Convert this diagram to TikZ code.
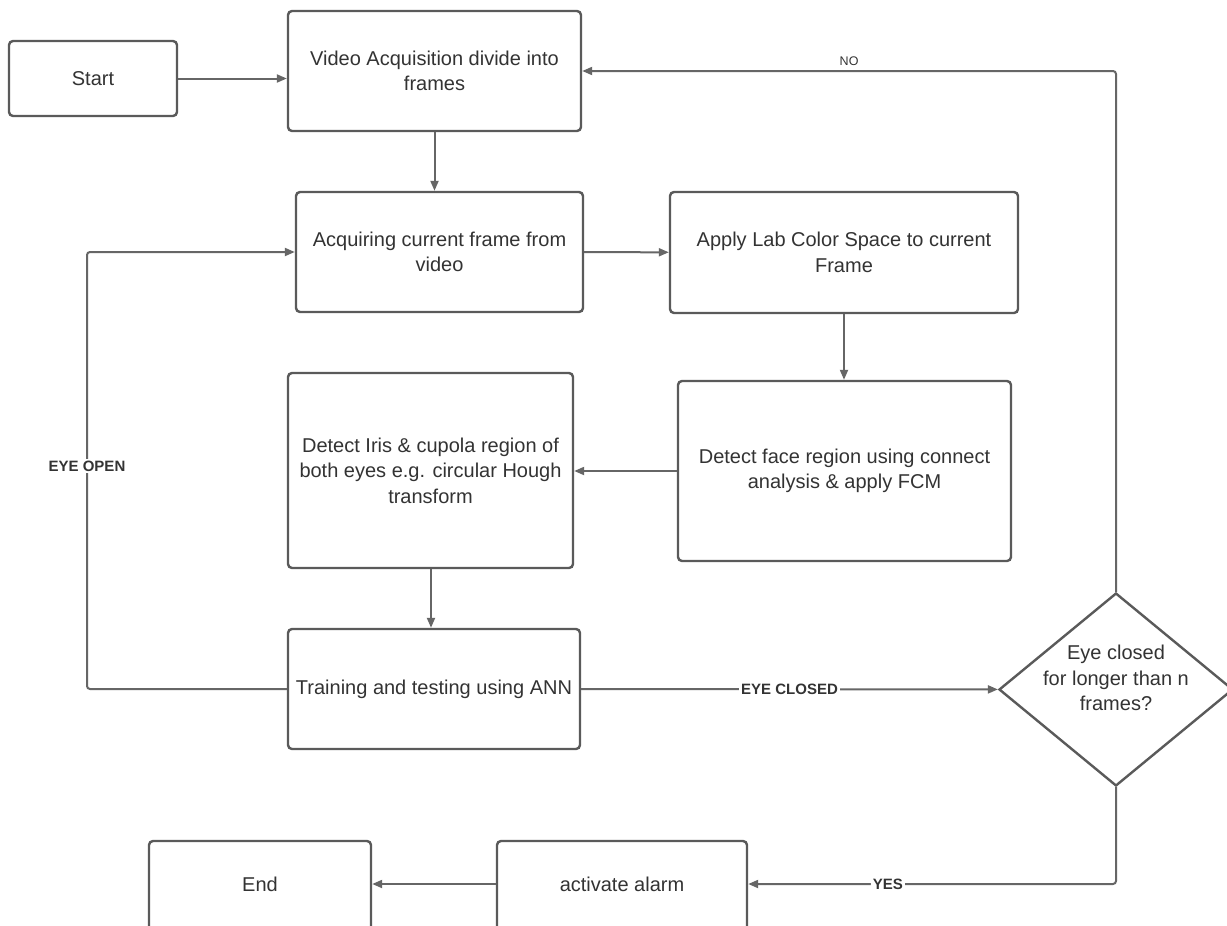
\documentclass[tikz,border=0pt]{standalone}
\usepackage{fontspec}
\setmainfont{Liberation Sans}
\usetikzlibrary{shapes.geometric,arrows.meta}
\definecolor{boxline}{HTML}{5A5A5A}
\definecolor{conline}{HTML}{666666}
\definecolor{txtcol}{HTML}{333333}
\tikzset{
  box/.style={draw=boxline, line width=2.4pt, rounded corners=4pt, fill=white, inner sep=0pt,
    align=center, text=txtcol, font=\fontsize{20}{25.5}\selectfont},
  plain/.style={inner sep=0pt, align=center, text=txtcol, font=\fontsize{20}{25.5}\selectfont},
  conn/.style={draw=conline, line width=2pt, rounded corners=3pt,
    -{Triangle[length=10pt,width=8pt]}},
  lbl/.style={fill=white, inner sep=2pt, text=txtcol, font=\bfseries\fontsize{15}{18}\selectfont},
  nolbl/.style={inner sep=1pt, text=txtcol, font=\fontsize{12.5}{15}\selectfont},
}
\begin{document}
\begin{tikzpicture}[x=1pt,y=-1pt]
\useasboundingbox (0,0) rectangle (1227,926);
\clip (0,0) rectangle (1227,926);
\fill[white] (0,0) rectangle (1227,926);

\node[box, minimum width=168pt, minimum height=75pt] (start) at (93,78.5) {Start};
\node[box, minimum width=293pt, minimum height=120pt] (video) at (434.5,71) {Video Acquisition divide into\\frames};
\node[box, minimum width=287pt, minimum height=120pt] (acq) at (439.5,252) {Acquiring current frame from\\video};
\node[box, minimum width=348pt, minimum height=121pt] (lab) at (844,252.5) {Apply Lab Color Space to current\\Frame};
\node[box, minimum width=333pt, minimum height=180pt] (face) at (844.5,471) {Detect face region using connect\\analysis \& apply FCM};
\node[box, minimum width=285pt, minimum height=195pt] (iris) at (430.5,470.5) {Detect Iris \& cupola region of\\both eyes e.g. circular Hough\\transform};
\node[box, minimum width=292pt, minimum height=120pt] (train) at (434,689) {Training and testing using ANN};

\node[draw=boxline, line width=2.4pt, fill=white, shape=diamond, inner sep=0pt,
      minimum width=234pt, minimum height=193pt] (dia) at (1116,689.5) {};
\node[plain] (diatext) at (1116,678) {Eye closed\\for longer than n\\frames?};

\node[box, minimum width=250pt, minimum height=130pt] (alarm) at (622,906) {};
\node[plain] (alarmtext) at (622,884) {activate alarm};
\node[box, minimum width=222pt, minimum height=130pt] (endbox) at (260,906) {};
\node[plain] (endtext) at (260,884) {End};

\coordinate (loop) at (87,0);

\draw[conn] (start) -- (start -| video.west);
\draw[conn] (video) -- (acq.north -| video.south);
\draw[conn] (acq) -- (lab);
\draw[conn] (lab) -- (face.north -| lab.south);
\draw[conn] (face) -- (iris.east |- face.west);
\draw[conn] (iris.south -| 431,0) -- (train.north -| 431,0);
\draw[conn] (train) -- node[lbl]{EYE CLOSED} (dia);
\draw[conn] (train.west) -- (train.west -| loop) -- (acq.west -| loop) -- (acq.west);
\node[lbl] (eyeopen) at (87,466) {EYE OPEN};
\draw[conn] (dia.north) |- node[nolbl, pos=0.75, anchor=south, yshift=3pt]{NO} (video.east);
\draw[conn] (dia.south) |- node[lbl, pos=0.81]{YES} (alarmtext -| alarm.east);
\draw[conn] (alarmtext -| alarm.west) -- (endtext -| endbox.east);
\end{tikzpicture}
\end{document}
